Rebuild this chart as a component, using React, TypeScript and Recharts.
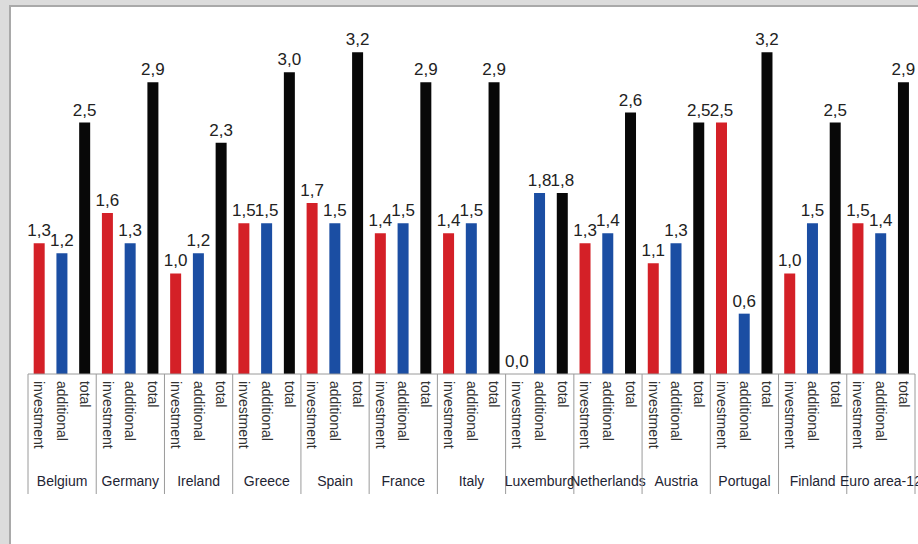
import { BarChart, Bar, XAxis, YAxis, Cell, LabelList } from "recharts";

const countries = [
  "Belgium", "Germany", "Ireland", "Greece", "Spain", "France", "Italy",
  "Luxemburg", "Netherlands", "Austria", "Portugal", "Finland", "Euro area-12",
];
const investment = [1.3, 1.6, 1.0, 1.5, 1.7, 1.4, 1.4, 0.0, 1.3, 1.1, 2.5, 1.0, 1.5];
const additional = [1.2, 1.3, 1.2, 1.5, 1.5, 1.5, 1.5, 1.8, 1.4, 1.3, 0.6, 1.5, 1.4];
const total = [2.5, 2.9, 2.3, 3.0, 3.2, 2.9, 2.9, 1.8, 2.6, 2.5, 3.2, 2.5, 2.9];
const subLabels = ["investment", "additional", "total"];

const COLORS: Record<string, string> = {
  investment: "#d42027",
  additional: "#1b4ea3",
  total: "#080808",
};

const W = 918;
const H = 544;
const MARGIN = { top: 22, right: 3, left: 28, bottom: 20 };
const BAND = (W - MARGIN.left - MARGIN.right) / (countries.length * 3);

// one row per bar: country x sub-category
const rows = countries.flatMap((country, i) =>
  [investment[i], additional[i], total[i]].map((value, j) => ({
    key: `${country}|${subLabels[j]}`,
    country,
    sub: subLabels[j],
    value,
    last: i === countries.length - 1,
  }))
);
const byKey = Object.fromEntries(rows.map((r) => [r.key, r]));

const fmt = (v: any) => Number(v).toFixed(1).replace(".", ",");

function CategoryTick(props: any) {
  const { x, y, payload } = props;
  const row = byKey[payload.value];
  if (!row) return null;
  const ty = y + 7;
  return (
    <g>
      <text
        x={x}
        y={ty}
        dy="0.35em"
        transform={`rotate(90, ${x}, ${ty})`}
        textAnchor="start"
        fontSize={14}
        fill="#333"
        fontFamily="Liberation Sans, Arial, sans-serif"
      >
        {row.sub}
      </text>
      {row.sub === "additional" && (
        <text
          x={x}
          y={y + 112}
          textAnchor="middle"
          fontSize={14}
          fill="#1e2433"
          fontFamily="Liberation Sans, Arial, sans-serif"
        >
          {row.country}
        </text>
      )}
      {row.sub === "investment" && (
        <line x1={x - BAND / 2} x2={x - BAND / 2} y1={y} y2={y + 120} stroke="#9a9a9a" />
      )}
      {row.sub === "total" && row.last && (
        <line x1={x + BAND / 2} x2={x + BAND / 2} y1={y} y2={y + 120} stroke="#9a9a9a" />
      )}
    </g>
  );
}

export default function App() {
  return (
    <div
      style={{
        position: "absolute",
        left: 0,
        top: 0,
        width: W,
        height: H,
        background: "#dcdcdc",
        overflow: "hidden",
      }}
    >
      <div
        style={{
          position: "absolute",
          left: 9,
          top: 5,
          right: 0,
          bottom: 0,
          background: "#fff",
          borderLeft: "2px solid #a9a9a9",
          borderTop: "2px solid #a9a9a9",
        }}
      />
      <div style={{ position: "absolute", left: 0, top: 0 }}>
        <BarChart width={W} height={H} data={rows} margin={MARGIN} barCategoryGap="25%">
          <YAxis hide domain={[0, 3.5]} />
          <XAxis
            dataKey="key"
            interval={0}
            height={150}
            tickSize={0}
            tickMargin={0}
            tickLine={false}
            axisLine={{ stroke: "#9a9a9a" }}
            tick={<CategoryTick />}
          />
          <Bar dataKey="value" minPointSize={0.01} isAnimationActive={false}>
            {rows.map((r) => (
              <Cell key={r.key} fill={COLORS[r.sub]} />
            ))}
            <LabelList
              dataKey="value"
              position="top"
              offset={7}
              formatter={fmt}
              fontSize={17}
              fill="#222"
              fontFamily="Liberation Sans, Arial, sans-serif"
            />
          </Bar>
        </BarChart>
      </div>
    </div>
  );
}
